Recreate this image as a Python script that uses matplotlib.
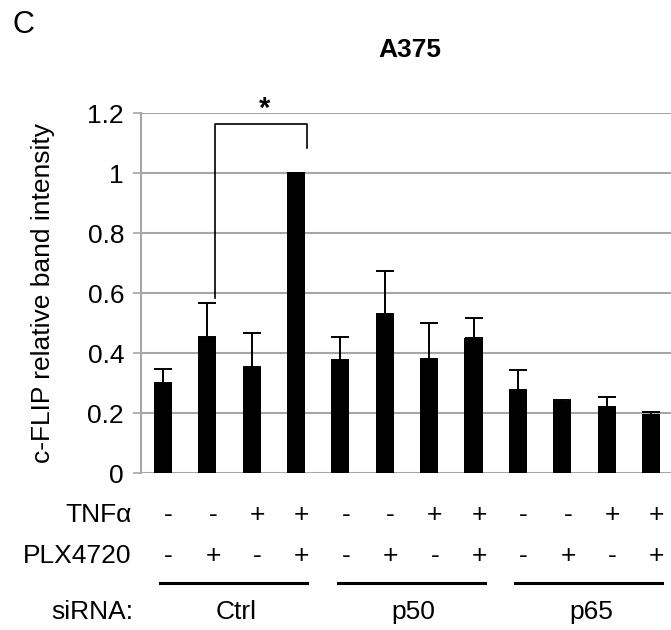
"""c-FLIP 相对条带强度柱状图 (A375)。"""

import matplotlib

matplotlib.use("Agg")
import matplotlib.pyplot as plt
from matplotlib.transforms import blended_transform_factory

plt.rcParams["font.family"] = ["Liberation Sans", "DejaVu Sans"]

groups = ["Ctrl", "p50", "p65"]
tnf = ["-", "-", "+", "+", "-", "-", "+", "+", "-", "-", "+", "+"]
plx = ["-", "+", "-", "+", "-", "+", "-", "+", "-", "+", "-", "+"]
values = [0.300, 0.455, 0.353, 1.000, 0.378, 0.532, 0.382, 0.451, 0.278, 0.239, 0.221, 0.196]
errors = [0.047, 0.113, 0.114, 0.0, 0.076, 0.142, 0.120, 0.068, 0.066, 0.006, 0.034, 0.008]
yticks = [0, 0.2, 0.4, 0.6, 0.8, 1, 1.2]
ytick_labels = ["0", "0.2", "0.4", "0.6", "0.8", "1", "1.2"]

GRID = "#a6a6a6"
FS = 19


def draw(out_path: str) -> None:
    fig = plt.figure(figsize=(6.71, 6.3), dpi=100)
    ax = fig.add_axes([0.2097, 0.2487, 0.7903, 0.5714])

    x = list(range(len(values)))
    ax.bar(x, values, width=0.41, color="black", zorder=3)
    ax.errorbar(
        x,
        values,
        yerr=[[0] * len(errors), errors],
        fmt="none",
        ecolor="black",
        elinewidth=1.4,
        capsize=6.5,
        capthick=1.4,
        zorder=4,
    )

    ax.set_xlim(-0.5, 11.45)
    ax.set_ylim(0, 1.2)
    ax.set_yticks(yticks)
    ax.set_yticklabels(ytick_labels, fontsize=FS)
    ax.set_xticks([])
    ax.tick_params(axis="y", length=6, width=1.2, color=GRID, pad=6)
    ax.grid(True, axis="y", color=GRID, linewidth=1.5, zorder=0)
    for side in ("top", "right", "bottom"):
        ax.spines[side].set_visible(False)
    ax.spines["left"].set_color(GRID)
    ax.spines["left"].set_linewidth(1.5)
    ax.set_axisbelow(True)

    # 显著性括号
    ax.plot([1.167, 1.167, 3.25, 3.25], [0.583, 1.163, 1.163, 1.083],
            color="black", linewidth=1.2, clip_on=False, zorder=5)
    ax.text(2.29, 1.215, "*", ha="center", va="center", fontsize=FS + 2,
            fontweight="bold", clip_on=False)

    fig.text(0.064, 0.5357, "c-FLIP relative band intensity", rotation=90,
             ha="center", va="center", fontsize=FS)
    fig.text(0.6106, 0.92, "A375", ha="center", va="center", fontsize=FS, fontweight="bold")
    fig.text(0.018, 0.96, "C", ha="left", va="center", fontsize=FS + 3)

    # 处理条件表
    trans = blended_transform_factory(ax.transData, fig.transFigure)
    fig.text(0.196, 0.183, "TNFα", ha="right", va="center", fontsize=FS)
    fig.text(0.196, 0.118, "PLX4720", ha="right", va="center", fontsize=FS)
    fig.text(0.199, 0.029, "siRNA:", ha="right", va="center", fontsize=FS)
    for i in x:
        fig.text(i + 0.13, 0.183, tnf[i], transform=trans, ha="center", va="center", fontsize=FS)
        fig.text(i + 0.13, 0.118, plx[i], transform=trans, ha="center", va="center", fontsize=FS)
    for g, name in enumerate(groups):
        start = g * 4
        ax.plot([start - 0.06, start + 3.25], [0.0741, 0.0741], transform=trans,
                color="black", linewidth=2.2, clip_on=False)
        fig.text(start + 1.65, 0.029, name, transform=trans, ha="center", va="center", fontsize=FS)

    fig.savefig(out_path, dpi=100)
    plt.close(fig)


if __name__ == "__main__":
    draw("out.png")
